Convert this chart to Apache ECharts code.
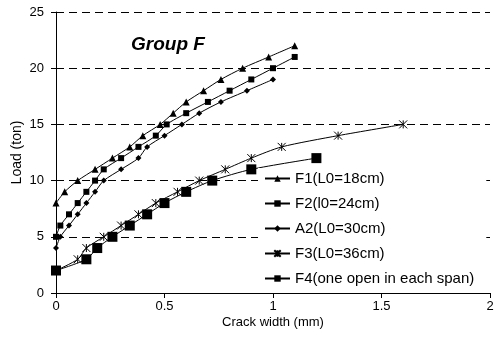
<!DOCTYPE html>
<html>
<head>
<meta charset="utf-8">
<script src="https://cdn.jsdelivr.net/npm/echarts@6/dist/echarts.min.js"></script>
<style>html,body{margin:0;padding:0;background:#fff}#c{width:503px;height:344px}</style>
</head>
<body>
<div id="c"></div>
<script>
var seriesNames = ['F1(L0=18cm)', 'F2(l0=24cm)', 'A2(L0=30cm)', 'F3(L0=36cm)', 'F4(one open in each span)'];
var F1 = [[0,8],[0.04,9],[0.1,10],[0.18,11],[0.26,12],[0.34,13],[0.40,14],[0.48,15],[0.54,16],[0.60,17],[0.68,18],[0.76,19],[0.86,20],[0.98,21],[1.10,22]];
var F2 = [[0,5],[0.02,6],[0.06,7],[0.1,8],[0.14,9],[0.18,10],[0.22,11],[0.30,12],[0.38,13],[0.46,14],[0.51,15],[0.60,16],[0.70,17],[0.80,18],[0.90,19],[1.00,20],[1.10,21]];
var A2 = [[0,4],[0.02,5],[0.06,6],[0.1,7],[0.14,8],[0.18,9],[0.22,10],[0.30,11],[0.38,12],[0.42,13],[0.50,14],[0.58,15],[0.66,16],[0.76,17],[0.88,18],[1.00,19]];
var F3 = [[0,2],[0.1,3],[0.14,4],[0.22,5],[0.30,6],[0.38,7],[0.46,8],[0.56,9],[0.66,10],[0.78,11],[0.90,12],[1.04,13],[1.30,14],[1.60,15]];
var F4 = [[0,2],[0.14,3],[0.19,4],[0.26,5],[0.34,6],[0.42,7],[0.50,8],[0.60,9],[0.72,10],[0.90,11],[1.20,12]];
var xTicks = {min: 0, max: 2, interval: 0.5};
var yTicks = {min: 0, max: 25, interval: 5};
var titleText = 'Group F';
var xName = 'Crack width (mm)';
var yName = 'Load (ton)';

var FONT = 'Liberation Sans, Arial, sans-serif';
var star = 'path://M0,0L10,10M10,0L0,10M5,0L5,10';
var symbols = ['triangle', 'rect', 'diamond', star, 'rect'];
var sizes = [7, 6, 6, 8, 10];
var datas = [F1, F2, A2, F3, F4];

var series = datas.map(function (d, i) {
  return {
    name: seriesNames[i],
    type: 'line',
    data: d,
    smooth: 0.25,
    symbol: symbols[i],
    symbolSize: sizes[i],
    showSymbol: true,
    lineStyle: {color: '#000', width: 1},
    itemStyle: {color: '#000', borderColor: '#000', borderWidth: i === 3 ? 1 : 0},
    emphasis: {disabled: true},
    animation: false
  };
});

var chart = echarts.init(document.getElementById('c'), null, {renderer: 'canvas'});
chart.setOption({
  animation: false,
  backgroundColor: '#fff',
  title: {
    text: titleText, left: 126, top: 30,
    textStyle: {fontFamily: FONT, fontSize: 19, fontWeight: 'bold', fontStyle: 'italic', color: '#000'}
  },
  grid: {left: 56, right: 13, top: 12, bottom: 51, containLabel: false, outerBoundsMode: 'none'},
  legend: {
    orient: 'vertical', left: 258, top: 168,
    itemWidth: 25, itemHeight: 8, itemGap: 10,
    backgroundColor: '#fff', padding: [3, 12, 3, 6],
    textStyle: {fontFamily: FONT, fontSize: 15, color: '#000', lineHeight: 15},
    data: seriesNames
  },
  xAxis: {
    type: 'value', min: xTicks.min, max: xTicks.max, interval: xTicks.interval,
    name: xName, nameLocation: 'middle', nameGap: 23, nameMoveOverlap: false,
    nameTextStyle: {fontFamily: FONT, fontSize: 13, color: '#000'},
    axisLine: {show: true, onZero: false, lineStyle: {color: '#000', width: 1}},
    axisTick: {show: true, length: 5, lineStyle: {color: '#000'}},
    axisLabel: {fontFamily: FONT, fontSize: 13, color: '#000', margin: 7},
    splitLine: {show: false}
  },
  yAxis: {
    type: 'value', min: yTicks.min, max: yTicks.max, interval: yTicks.interval,
    name: yName, nameLocation: 'middle', nameGap: 32, nameRotate: 90, nameMoveOverlap: false,
    nameTextStyle: {fontFamily: FONT, fontSize: 14, color: '#000'},
    axisLine: {show: true, lineStyle: {color: '#000', width: 1}},
    axisTick: {show: true, length: 5, lineStyle: {color: '#000'}},
    axisLabel: {fontFamily: FONT, fontSize: 13, color: '#000', margin: 12},
    splitLine: {show: true, lineStyle: {color: '#000', width: 1, type: [8, 5]}}
  },
  series: series
});
</script>
</body>
</html>
